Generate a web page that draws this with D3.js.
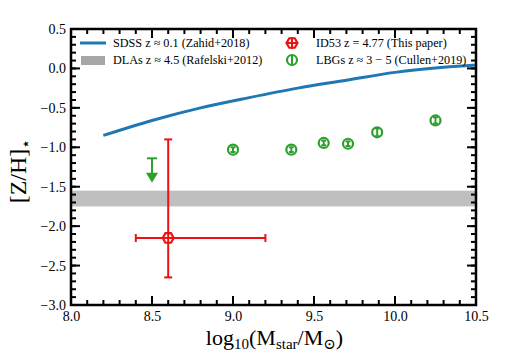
<!DOCTYPE html>
<meta charset="utf-8">
<script src="https://d3js.org/d3.v7.min.js"></script>
<style>
  body { margin: 0; background: #fff; }
  text { font-family: "Liberation Serif", "DejaVu Serif", serif; fill: #000; }
</style>
<div id="chart"></div>
<script>
// ---- data ----
var sdssMass = [8.2, 8.5, 8.8, 9.1, 9.4, 9.7, 10.0, 10.3, 10.5];
var sdssZ    = [-0.85, -0.66, -0.5, -0.37, -0.25, -0.15, -0.05, 0.015, 0.045];

var dlaBand = [-1.75, -1.55];

var lbgMass = [9.0, 9.36, 9.56, 9.71, 9.89, 10.25];
var lbgZ    = [-1.03, -1.03, -0.945, -0.955, -0.81, -0.66];
var lbgErr  = [0.03, 0.03, 0.03, 0.03, 0.05, 0.04];

var limitMass = [8.5];
var limitTop  = [-1.14];
var limitTip  = [-1.45];

var idMass = [8.6];
var idZ    = [-2.15];
var idXerr = [[0.2, 0.6]];   // left, right
var idYerr = [[0.5, 1.25]];  // down, up

var xTicks = [8.0, 8.5, 9.0, 9.5, 10.0, 10.5];
var yTicks = [0.5, 0.0, -0.5, -1.0, -1.5, -2.0, -2.5, -3.0];

var legendLeft  = ["SDSS z \u2248 0.1 (Zahid+2018)", "DLAs z \u2248 4.5 (Rafelski+2012)"];
var legendRight = ["ID53 z = 4.77 (This paper)", "LBGs z \u2248 3 \u2212 5 (Cullen+2019)"];

// ---- layout ----
var margin = {top: 29, right: 31, bottom: 51, left: 71},
    width = 507 - margin.left - margin.right,
    height = 356 - margin.top - margin.bottom;

var blue = "#1f77b4", green = "#2ca02c", red = "#ee1111";

var svg = d3.select("#chart")
  .append("svg")
    .attr("width", 507)
    .attr("height", 356)
  .append("g")
    .attr("transform", "translate(" + margin.left + "," + margin.top + ")");

var x = d3.scaleLinear().domain([8, 10.5]).range([0, width]);
var y = d3.scaleLinear().domain([-3, 0.5]).range([height, 0]);

var fmt = function(d) { return d3.format(".1f")(d).replace("-", "\u2212"); };

// DLA band
svg.append("rect")
  .attr("x", 0)
  .attr("width", width)
  .attr("y", y(dlaBand[1]))
  .attr("height", y(dlaBand[0]) - y(dlaBand[1]))
  .attr("fill", "#bfbfbf");

// SDSS curve
var sdss = sdssMass.map(function(m, i) { return [m, sdssZ[i]]; });
svg.append("path")
  .datum(sdss)
  .attr("fill", "none")
  .attr("stroke", blue)
  .attr("stroke-width", 3)
  .attr("d", d3.line()
    .x(function(d) { return x(d[0]); })
    .y(function(d) { return y(d[1]); })
    .curve(d3.curveMonotoneX));

// LBG points
var lbg = svg.selectAll(".lbg")
  .data(lbgMass.map(function(m, i) { return {m: m, z: lbgZ[i], e: lbgErr[i]}; }))
  .enter().append("g");
lbg.append("line")
  .attr("x1", function(d) { return x(d.m); })
  .attr("x2", function(d) { return x(d.m); })
  .attr("y1", function(d) { return y(d.z + d.e); })
  .attr("y2", function(d) { return y(d.z - d.e); })
  .attr("stroke", green).attr("stroke-width", 2);
[1, -1].forEach(function(s) {
  lbg.append("line")
    .attr("x1", function(d) { return x(d.m) - 2.5; })
    .attr("x2", function(d) { return x(d.m) + 2.5; })
    .attr("y1", function(d) { return y(d.z + s * d.e); })
    .attr("y2", function(d) { return y(d.z + s * d.e); })
    .attr("stroke", green).attr("stroke-width", 2);
});
lbg.append("circle")
  .attr("cx", function(d) { return x(d.m); })
  .attr("cy", function(d) { return y(d.z); })
  .attr("r", 5)
  .attr("fill", "none")
  .attr("stroke", green)
  .attr("stroke-width", 2.2);

// upper limit
limitMass.forEach(function(m, i) {
  var g = svg.append("g");
  g.append("line")
    .attr("x1", x(m)).attr("x2", x(m))
    .attr("y1", y(limitTop[i])).attr("y2", y(limitTip[i]) - 8)
    .attr("stroke", green).attr("stroke-width", 2);
  g.append("line")
    .attr("x1", x(m) - 5).attr("x2", x(m) + 5)
    .attr("y1", y(limitTop[i])).attr("y2", y(limitTop[i]))
    .attr("stroke", green).attr("stroke-width", 2);
  g.append("path")
    .attr("d", "M" + (x(m) - 6) + "," + (y(limitTip[i]) - 10) +
               "L" + (x(m) + 6) + "," + (y(limitTip[i]) - 10) +
               "L" + x(m) + "," + y(limitTip[i]) + "Z")
    .attr("fill", green);
});

// hexagon marker path
function hexagon(cx, cy, r) {
  var pts = d3.range(6).map(function(k) {
    var a = Math.PI / 3 * k;
    return [cx + r * Math.cos(a), cy + r * Math.sin(a)];
  });
  return "M" + pts.join("L") + "Z";
}

// ID53
idMass.forEach(function(m, i) {
  var g = svg.append("g").attr("stroke", red).attr("stroke-width", 2).attr("fill", "none");
  var x0 = x(m - idXerr[i][0]), x1 = x(m + idXerr[i][1]);
  var yb = y(idZ[i] - idYerr[i][0]), yt = y(idZ[i] + idYerr[i][1]);
  g.append("line").attr("x1", x0).attr("x2", x1).attr("y1", y(idZ[i])).attr("y2", y(idZ[i]));
  g.append("line").attr("x1", x(m)).attr("x2", x(m)).attr("y1", yt).attr("y2", yb);
  [x0, x1].forEach(function(xx) {
    g.append("line").attr("x1", xx).attr("x2", xx).attr("y1", y(idZ[i]) - 4).attr("y2", y(idZ[i]) + 4);
  });
  [yt, yb].forEach(function(yy) {
    g.append("line").attr("x1", x(m) - 4).attr("x2", x(m) + 4).attr("y1", yy).attr("y2", yy);
  });
  g.append("path").attr("d", hexagon(x(m), y(idZ[i]), 5.5)).attr("stroke-width", 2.2);
});

// ---- axes: labels via d3 axes ----
var xMinor = d3.range(80, 106).map(function(v) { return v / 10; });
var yMinor = d3.range(-30, 6).map(function(v) { return v / 10; });

svg.append("g").attr("transform", "translate(0," + height + ")")
  .call(d3.axisBottom(x).tickValues(xTicks).tickSize(0).tickPadding(6).tickFormat(fmt))
  .call(function(g) { g.select(".domain").remove(); })
  .attr("font-family", null).attr("font-size", null)
  .selectAll("text").style("font-size", "14px").attr("fill", "#000");
svg.append("g")
  .call(d3.axisLeft(y).tickValues(yTicks).tickSize(0).tickPadding(5).tickFormat(fmt))
  .call(function(g) { g.select(".domain").remove(); })
  .attr("font-family", null).attr("font-size", null)
  .selectAll("text").style("font-size", "14px").attr("fill", "#000");

// frame
svg.append("rect")
  .attr("width", width).attr("height", height)
  .attr("fill", "none").attr("stroke", "#000").attr("stroke-width", 2.5);

// inward ticks on all four sides, drawn on top of the frame
var ticks = svg.append("g").attr("stroke", "#000").attr("stroke-width", 2);
function xTickMarks(vals, len) {
  [[height, -1], [0, 1]].forEach(function(side) {
    ticks.selectAll(null).data(vals).enter().append("line")
      .attr("x1", function(d) { return x(d); })
      .attr("x2", function(d) { return x(d); })
      .attr("y1", side[0])
      .attr("y2", side[0] + side[1] * len);
  });
}
function yTickMarks(vals, len) {
  [[0, 1], [width, -1]].forEach(function(side) {
    ticks.selectAll(null).data(vals).enter().append("line")
      .attr("y1", function(d) { return y(d); })
      .attr("y2", function(d) { return y(d); })
      .attr("x1", side[0])
      .attr("x2", side[0] + side[1] * len);
  });
}
xTickMarks(xMinor, 5);
xTickMarks(xTicks, 9);
yTickMarks(yMinor, 5);
yTickMarks(yTicks, 9);

// ---- legend ----
var leg = svg.append("g").style("font-size", "12.2px");
leg.append("line")
  .attr("x1", 9).attr("x2", 35).attr("y1", 14).attr("y2", 14)
  .attr("stroke", blue).attr("stroke-width", 3);
leg.append("rect")
  .attr("x", 10).attr("y", 27).attr("width", 24).attr("height", 9)
  .attr("fill", "#a6a6a6");
legendLeft.forEach(function(t, i) {
  leg.append("text").attr("x", 42).attr("y", 18 + i * 17).text(t);
});

var rx = 221;
var gm = leg.append("g").attr("stroke", red).attr("stroke-width", 2).attr("fill", "none");
gm.append("line").attr("x1", rx - 5).attr("x2", rx + 5).attr("y1", 14).attr("y2", 14);
gm.append("line").attr("x1", rx).attr("x2", rx).attr("y1", 8).attr("y2", 20);
gm.append("path").attr("d", hexagon(rx, 14, 5.5)).attr("stroke-width", 2.2);
leg.append("line").attr("x1", rx).attr("x2", rx).attr("y1", 27).attr("y2", 35)
  .attr("stroke", green).attr("stroke-width", 2);
leg.append("circle").attr("cx", rx).attr("cy", 31).attr("r", 5)
  .attr("fill", "none").attr("stroke", green).attr("stroke-width", 2.2);
legendRight.forEach(function(t, i) {
  leg.append("text").attr("x", 245).attr("y", 18 + i * 17).text(t);
});

// ---- axis labels ----
var xlab = svg.append("text")
  .attr("x", width / 2 + 1)
  .attr("y", height + 40)
  .attr("text-anchor", "middle")
  .style("font-size", "22px");
xlab.append("tspan").text("log");
xlab.append("tspan").attr("dy", 4).style("font-size", "15px").text("10");
xlab.append("tspan").attr("dy", -4).text("(M");
xlab.append("tspan").attr("dy", 4).style("font-size", "15px").text("star");
xlab.append("tspan").attr("dy", -4).text("/M");
xlab.append("tspan").attr("dy", 4).style("font-size", "15px").text("\u2299");
xlab.append("tspan").attr("dy", -4).text(")");

var ylab = svg.append("text")
  .attr("transform", "translate(" + (-45) + "," + (height / 2 + 4) + ") rotate(-90)")
  .attr("text-anchor", "middle")
  .style("font-size", "24px");
ylab.append("tspan").text("[Z/H]");
ylab.append("tspan").attr("dy", 5).style("font-size", "16px").text("\u22c6");
</script>
